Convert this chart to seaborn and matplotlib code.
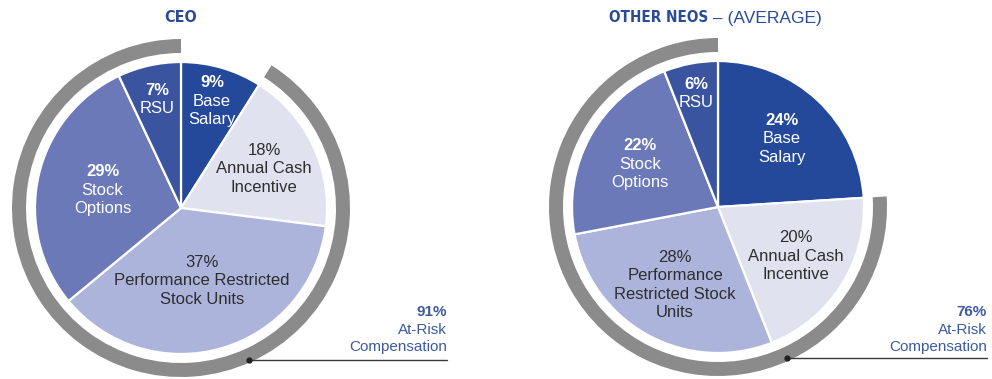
import numpy as np
import matplotlib
matplotlib.use("Agg")
import matplotlib.pyplot as plt
from matplotlib.patches import Wedge
import seaborn as sns

# ---------------- data ----------------
categories = ["Base Salary", "Annual Cash Incentive", "Performance Restricted Stock Units",
              "Stock Options", "RSU"]
ceo_values = [9, 18, 37, 29, 7]
neo_values = [24, 20, 28, 22, 6]
ceo_label_lines = [["Base", "Salary"], ["Annual Cash", "Incentive"],
                   ["Performance Restricted", "Stock Units"], ["Stock", "Options"], ["RSU"]]
neo_label_lines = [["Base", "Salary"], ["Annual Cash", "Incentive"],
                   ["Performance", "Restricted Stock", "Units"], ["Stock", "Options"], ["RSU"]]
ceo_at_risk = 91
neo_at_risk = 76
ceo_title = "CEO"
neo_title_bold = "OTHER NEOS"
neo_title_regular = " \u2013 (AVERAGE)"
at_risk_lines = ["At-Risk", "Compensation"]

# ---------------- style ----------------
sns.set_theme(style="white")
plt.rcParams["font.family"] = ["Liberation Sans", "DejaVu Sans"]
narrow = ["Liberation Sans Narrow", "DejaVu Sans"]

wedge_colors = ["#24499b", "#e0e2f0", "#adb4dc", "#6c79b9", "#3a549f"]
text_colors = ["white", "#2e2e2e", "#2e2e2e", "white", "white"]
pct_bold = [True, False, False, True, True]
ring_color = "#8b8b8b"
title_blue = "#2a4c98"
note_blue = "#3d5ba0"

fig = plt.figure(figsize=(9.92, 3.79), dpi=100)
ax = fig.add_axes([0, 0, 1, 1])

H = 379
R = 146
ring_r = 169
ring_w = 14
line_h = 18.5


def draw_chart(cx, cy, values, label_lines, label_fracs, at_risk, note_right, dot_angle):
    wedges, _ = ax.pie(values, colors=wedge_colors, startangle=90, counterclock=False,
                       radius=R, center=(cx, cy),
                       wedgeprops=dict(edgecolor="white", linewidth=1.6))
    for i, w in enumerate(wedges):
        mid = np.deg2rad((w.theta1 + w.theta2) / 2)
        lx = cx + R * label_fracs[i] * np.cos(mid)
        ly = cy + R * label_fracs[i] * np.sin(mid)
        lines = [f"{values[i]}%"] + label_lines[i]
        n = len(lines)
        for j, t in enumerate(lines):
            y = ly + (n - 1) / 2 * line_h - j * line_h
            ax.text(lx, y, t, ha="center", va="center", fontsize=12,
                    color=text_colors[i],
                    fontweight="bold" if (j == 0 and pct_bold[i]) else "normal")
    base_w = wedges[0]
    ring = Wedge((cx, cy), ring_r, 90, base_w.theta1 + 360 if base_w.theta1 < 90 else base_w.theta1,
                 width=ring_w, facecolor=ring_color, edgecolor="none")
    ax.add_patch(ring)
    a = np.deg2rad(dot_angle)
    rr = ring_r - 3
    dx, dy = cx + rr * np.cos(a), cy + rr * np.sin(a)
    ax.plot([dx, note_right], [dy, dy], color="#3a3a3a", lw=1.0)
    ax.plot([dx], [dy], "o", color="#222222", ms=3.5)
    ax.text(note_right, H - 312, f"{at_risk}%", ha="right", va="center", fontsize=11,
            fontweight="bold", color=note_blue)
    for j, t in enumerate(at_risk_lines):
        ax.text(note_right, H - 330 - j * 17.5, t, ha="right", va="center", fontsize=11,
                color=note_blue)


draw_chart(181, H - 208, ceo_values, ceo_label_lines,
           [0.76, 0.63, 0.52, 0.55, 0.76], ceo_at_risk, 447, -66)
draw_chart(718, H - 207, neo_values, neo_label_lines,
           [0.64, 0.63, 0.61, 0.61, 0.79], neo_at_risk, 987, -65.6)

# titles
ax.text(181, H - 18, ceo_title, ha="center", va="center", fontsize=11.5,
        fontweight="bold", color=title_blue, family=narrow, fontstretch="condensed")
ax.text(708, H - 18, neo_title_bold, ha="right", va="center", fontsize=11,
        fontweight="bold", color=title_blue, family=narrow, fontstretch="condensed")
ax.text(708, H - 18, neo_title_regular, ha="left", va="center", fontsize=12.5,
        color=title_blue)

ax.set_xlim(0, 992)
ax.set_ylim(0, H)
ax.set_aspect("equal")
ax.axis("off")

fig.savefig("out.png", dpi=100, facecolor="white")
